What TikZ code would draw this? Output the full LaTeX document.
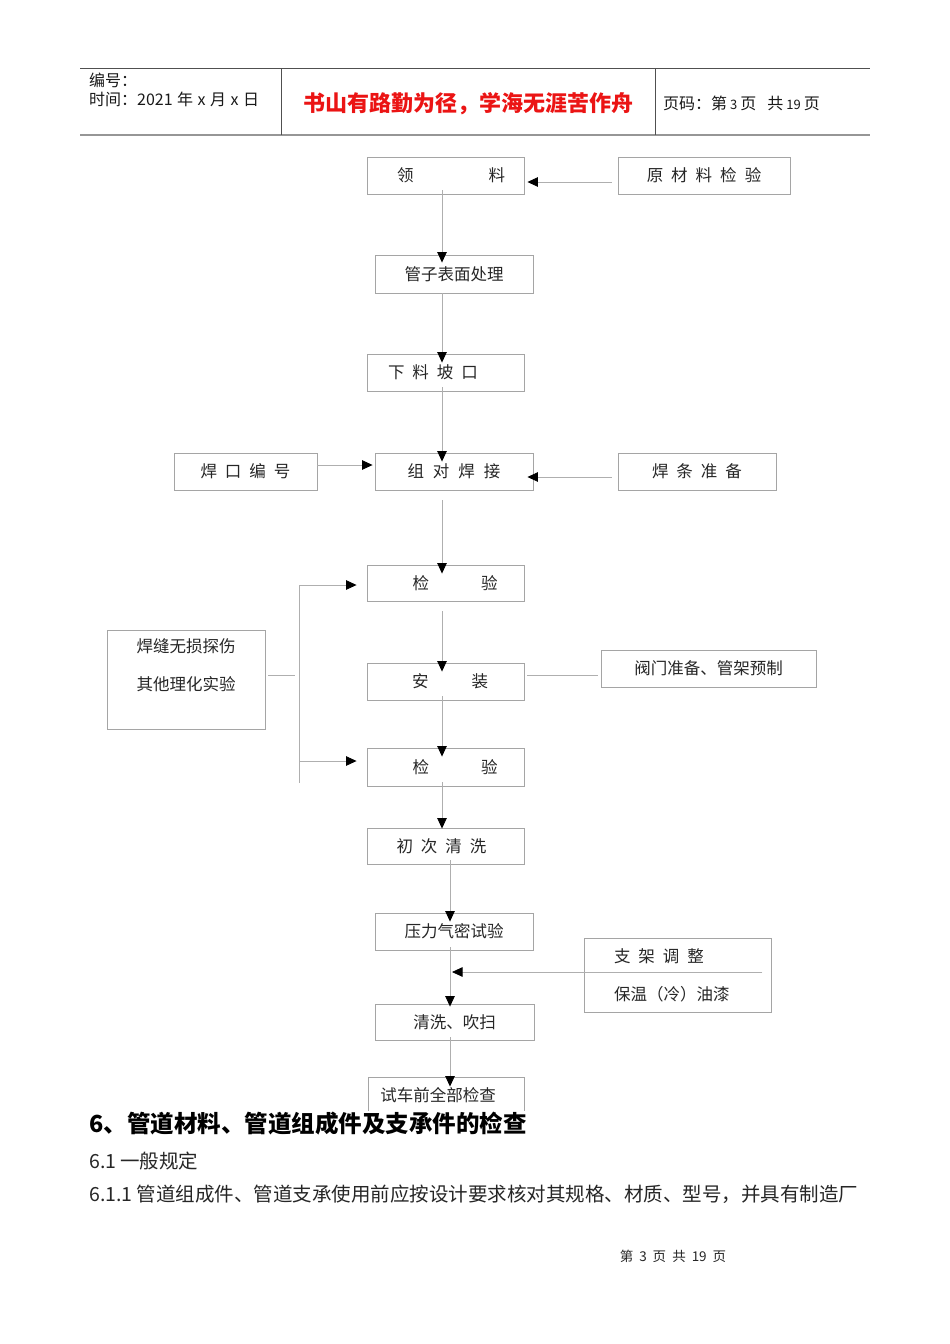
\documentclass[tikz,border=0pt]{standalone}
\usepackage{fontspec}
\setmainfont{Noto Sans CJK SC}
\usetikzlibrary{arrows.meta,calc}
\definecolor{bgray}{RGB}{165,165,165}
\definecolor{lgray}{RGB}{175,175,175}
\definecolor{hdark}{RGB}{80,80,80}
\definecolor{hlow}{RGB}{150,150,150}
\definecolor{tred}{RGB}{235,20,20}
\newcommand{\fs}[1]{\fontsize{#1}{38}\selectfont}
\newcommand{\gp}[1]{\hspace{#1pt}}
\begin{document}
\begin{tikzpicture}[x=1pt,y=-1pt,
  box/.style={draw=bgray,line width=0.9pt,inner sep=0pt,font=\fs{16.5},text=black!85},
  conn/.style={draw=lgray,line width=0.8pt},
  arr/.style={conn,-{Triangle[length=10.5pt,width=9.5pt,color=black]}},
  hdr/.style={anchor=west,inner sep=0pt,font=\fs{16},text=black!90},
  body/.style={anchor=west,inner sep=0pt,font=\fs{19.5},text=black!85}]
\useasboundingbox[fill=white] (0,0) rectangle (950,1344);

% header
\draw[draw=hdark,line width=0.9pt] (80,68) -- (870,68);
\draw[draw=hlow,line width=1.8pt] (80,135) -- (870,135);
\draw[draw=hdark,line width=0.9pt] (281,68) -- (281,135);
\draw[draw=hdark,line width=0.9pt] (655,68) -- (655,135);
\node[hdr] (bh) at (89,80) {编号：};
\node[hdr] (sj) at (89,99) {时间：2021\gp{4.5}年\gp{4.5}x\gp{4.5}月\gp{4.5}x\gp{4.5}日};
\node[inner sep=0pt,font=\fs{22}\bfseries,text=tred] (title) at (468,104) {书山有路勤为径，学海无涯苦作舟};
\node[hdr] (ym) at (663,103) {页码：第\gp{3}{\fs{13}3}\gp{3}页\gp{11}共\gp{3}{\fs{13}19}\gp{3}页};

% boxes
\node[box,minimum width=157pt,minimum height=37pt] (lingliao) at (445.5,175.5) {\hspace*{11pt}领\gp{75}料};
\node[box,minimum width=172pt,minimum height=37pt] (yclj) at (704,175.5) {原\gp{8}材\gp{8}料\gp{8}检\gp{8}验};
\node[box,minimum width=158pt,minimum height=38pt] (guanzi) at (454,274) {管子表面处理};
\node[box,minimum width=157pt,minimum height=37pt] (xialiao) at (445.5,372.5) {下\gp{8}料\gp{8}坡\gp{8}口\hspace*{25pt}};
\node[box,minimum width=158pt,minimum height=37pt] (zudui) at (454,471.5) {组\gp{9}对\gp{9}焊\gp{9}接};
\node[box,minimum width=143pt,minimum height=37pt] (hankou) at (245.5,471.5) {焊\gp{8}口\gp{8}编\gp{8}号};
\node[box,minimum width=158pt,minimum height=37pt] (hantiao) at (697,471.5) {焊\gp{8}条\gp{8}准\gp{8}备};
\node[box,minimum width=157pt,minimum height=36pt] (jy1) at (445.5,583) {\hspace*{19pt}检\gp{52}验};
\node[box,minimum width=157pt,minimum height=37pt] (anz) at (445.5,681.5) {\hspace*{9pt}安\gp{43}装};
\node[box,minimum width=157pt,minimum height=38pt] (jy2) at (445.5,767) {\hspace*{19pt}检\gp{52}验};
\node[box,minimum width=158pt,minimum height=99pt,align=center] (hanfeng) at (186,679.5) {焊缝无损探伤\\其他理化实验\\[-9pt]~};
\node[box,minimum width=215pt,minimum height=37pt] (famen) at (708.5,668.5) {阀门准备、管架预制};
\node[box,minimum width=157pt,minimum height=36pt] (chuci) at (445.5,846) {初\gp{8}次\gp{8}清\gp{8}洗\hspace*{8pt}};
\node[box,minimum width=158pt,minimum height=37pt] (yali) at (454,931.5) {压力气密试验};
\node[box,minimum width=187pt,minimum height=74pt,text width=127pt,align=left] (zhijia) at (677.5,975) {支\gp{8}架\gp{8}调\gp{8}整\\保温（冷）油漆};
\node[box,minimum width=159pt,minimum height=36pt] (qingxi) at (454.5,1022) {清洗、吹扫};
\node[box,minimum width=156pt,minimum height=36pt] (shiche) at (446,1095) {试车前全部检查\hspace*{16pt}};

% connectors
\draw[arr] ([xshift=-6pt,yshift=-6.5pt]yclj.west) -- ([xshift=3pt,yshift=-6.5pt]lingliao.east);
\draw[arr] ([xshift=-3.5pt,yshift=4pt]lingliao.south) -- ([xshift=-12pt,yshift=-8pt]guanzi.north);
\draw[arr] ([xshift=-12pt]guanzi.south) -- ([xshift=-3.5pt,yshift=-9pt]xialiao.north);
\draw[arr] ([xshift=-3.5pt,yshift=4pt]xialiao.south) -- ([xshift=-12pt,yshift=-9pt]zudui.north);
\draw[arr] ([yshift=6.5pt]hankou.east) -- ([xshift=-2pt,yshift=6.5pt]zudui.west);
\draw[arr] ([xshift=-6pt,yshift=-5.5pt]hantiao.west) -- ([xshift=-6pt,yshift=-5.5pt]zudui.east);
\draw[arr] ([xshift=-12pt,yshift=-10pt]zudui.south) -- ([xshift=-3.5pt,yshift=-9pt]jy1.north);
\draw[arr] ([xshift=-3.5pt,yshift=-10pt]jy1.south) -- ([xshift=-3.5pt,yshift=-9pt]anz.north);
\draw[arr] ([xshift=-3.5pt,yshift=4pt]anz.south) -- ([xshift=-3.5pt,yshift=-9pt]jy2.north);
\draw[arr] ([xshift=-3.5pt,yshift=4pt]jy2.south) -- ([xshift=-3.5pt,yshift=-1pt]chuci.north);
\draw[arr] ([xshift=4.5pt,yshift=4pt]chuci.south) -- ([xshift=-4pt,yshift=-9pt]yali.north);
\draw[arr] ([xshift=-4pt,yshift=3pt]yali.south) -- ([xshift=-4.5pt,yshift=-3pt]qingxi.north);
\coordinate (junc) at (452,972);
\draw[arr] ([xshift=-9pt,yshift=3pt]zhijia.east) -- (junc);
\draw[arr] ([xshift=-4.5pt,yshift=3pt]qingxi.south) -- ([xshift=4pt,yshift=-10pt]shiche.north);
\draw[conn] ([xshift=3pt,yshift=6.5pt]anz.east) -- ([xshift=-3pt,yshift=-6.5pt]famen.west);
% left bracket
\coordinate (hf) at (295,675);
\coordinate (brtop) at (299,585);
\coordinate (brbot) at (299,783);
\coordinate (brlow) at (299,761);
\draw[conn] ([xshift=3pt,yshift=4.5pt]hanfeng.east) -- (hf);
\draw[conn] (brtop) -- (brbot);
\draw[arr] (brtop) -- ([xshift=-10pt,yshift=-2pt]jy1.west);
\draw[arr] (brlow) -- ([xshift=-10pt,yshift=6pt]jy2.west);

% text below
\node[anchor=west,inner sep=1pt,fill=white,font=\fs{23.5}\bfseries,text=black] (h6) at (88,1124) {6、管道材料、管道组成件及支承件的检查};
\node[body] (s61) at (89,1161) {6.1\gp{4}一般规定};
\node[body] (s611) at (89,1194) {6.1.1\gp{4}管道组成件、管道支承使用前应按设计要求核对其规格、材质、型号，并具有制造厂};
\node[inner sep=0pt,font=\fs{13.5},text=black!85] (ft) at (673,1256) {第\gp{6}3\gp{6}页\gp{6}共\gp{6}19\gp{6}页};
\end{tikzpicture}
\end{document}
